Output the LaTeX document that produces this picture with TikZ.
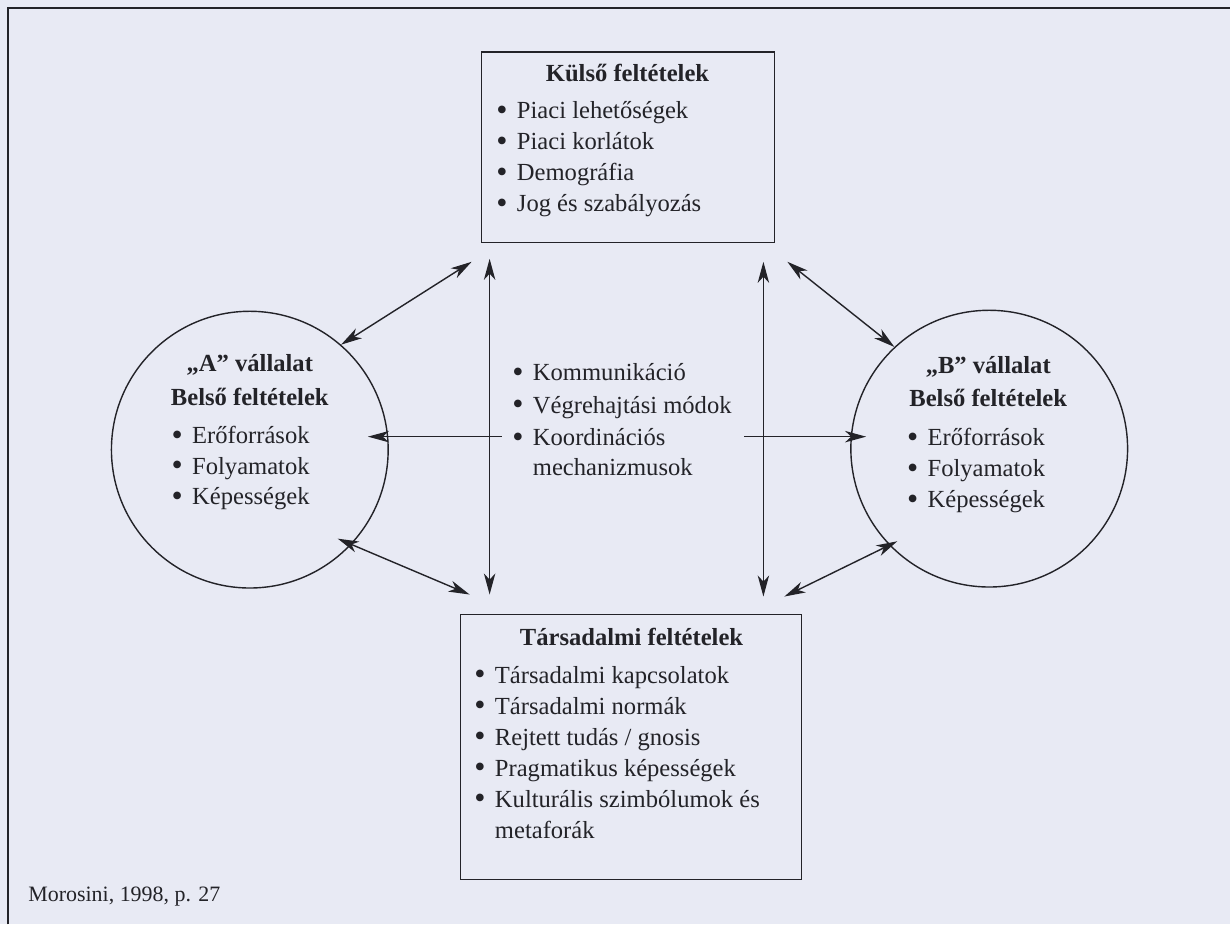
\documentclass[tikz,border=0pt]{standalone}
\usepackage{fontspec}
\setmainfont{Liberation Serif}
\usetikzlibrary{arrows.meta, positioning}

\definecolor{ink}{RGB}{35,35,40}
\definecolor{paper}{RGB}{232,234,244}
\newcommand{\bul}{\raisebox{-0.06em}{\scalebox{1.3}{\textbullet}}\hspace{5.3pt}}

\begin{document}
\begin{tikzpicture}[x=0.02cm, y=-0.02cm, >={Stealth[length=12pt, width=6.5pt, inset=3.5pt]},
  font=\fontsize{14}{17}\selectfont,
  every node/.style={text=ink, inner sep=0pt},
  box/.style={draw=ink, line width=0.8pt, rectangle},
  firm/.style={draw=ink, line width=0.8pt, circle, minimum size=5.54cm},
  title/.style={font=\fontsize{14}{17}\selectfont\bfseries, anchor=mid},
  item/.style={anchor=mid west},
  link/.style={draw=ink, line width=0.8pt}]

  % page
  \fill[paper] (0,0) rectangle (1231,925);
  \draw[ink, line width=1.1pt] (8,925) -- (8,8) -- (1231,8);

  % the four blocks
  \node[box, minimum width=5.86cm, minimum height=3.82cm] (kulso) at (628.5,147.5) {};
  \node[box, minimum width=6.82cm, minimum height=5.3cm] (tars) at (631.5,747.5) {};
  \node[firm] (fA) at (250,450) {};
  \node[firm] (fB) at (990,449) {};

  % Kulso feltetelek
  \node[title] (kulsoT) at (628,78) {Külső feltételek};
  \foreach \t [count=\i] in {Piaci lehetőségek, Piaci korlátok, Demográfia, Jog és szabályozás}
    \node[item] (k\i) at (496.5,{115+31*(\i-1)}) {\bul\t};

  % Tarsadalmi feltetelek
  \node[title] (tarsT) at (632,642) {Társadalmi feltételek};
  \foreach \t [count=\i] in {Társadalmi kapcsolatok, Társadalmi normák, Rejtett tudás / gnosis,
      Pragmatikus képességek, Kulturális szimbólumok és}
    \node[item] (t\i) at (474.5,{680+31*(\i-1)}) {\bul\t};
  \node[item] (t6) at (474.5,835) {\hphantom{\bul}metaforák};

  % A vallalat
  \node[title] (aT1) at (250,368) {„A” vállalat};
  \node[title] (aT2) at (250,402) {Belső feltételek};
  \foreach \t [count=\i] in {Erőforrások, Folyamatok, Képességek}
    \node[item] (a\i) at (171.5,{440+30.5*(\i-1)}) {\bul\t};

  % B vallalat
  \node[title] (bT1) at (989,370) {„B” vállalat};
  \node[title] (bT2) at (989,403) {Belső feltételek};
  \foreach \t [count=\i] in {Erőforrások, Folyamatok, Képességek}
    \node[item] (b\i) at (907.5,{442+31*(\i-1)}) {\bul\t};

  % middle
  \foreach \t [count=\i] in {Kommunikáció, Végrehajtási módok, Koordinációs}
    \node[item] (m\i) at (512.5,{377+32.5*(\i-1)}) {\bul\t};
  \node[item] (m4) at (512.5,472) {\hphantom{\bul}mechanizmusok};

  \node[anchor=mid west, font=\fontsize{12.5}{15}\selectfont] (src) at (28,898) {Morosini, 1998, p. 27};

  % free ends
  \coordinate (vL1) at (490,259);
  \coordinate (vL2) at (490,595);
  \coordinate (vR1) at (764,262);
  \coordinate (vR2) at (764,597);
  \coordinate (hL) at (502,437);
  \coordinate (hR) at (745,437);
  \coordinate (aUp) at (472,262);
  \coordinate (aDn) at (470,595);
  \coordinate (bUp) at (788,262);
  \coordinate (bDn) at (785,597);

  \draw[link, <->] (vL1) -- (vL2);
  \draw[link, <->] (vR1) -- (vR2);
  \draw[link, ->, shorten >=-0.42cm] (hL) -- (hL -| fA.east);
  \draw[link, ->, shorten >=-0.32cm] (hR) -- (hR -| fB.west);
  \draw[link, <->] (aUp) -- (fA.49);
  \draw[link, <->, shorten >=-0.3cm] (aDn) -- (fA.-43);
  \draw[link, <->] (bUp) -- (fB.133);
  \draw[link, <->, shorten >=-0.18cm] (bDn) -- (fB.-136);

\end{tikzpicture}
\end{document}
